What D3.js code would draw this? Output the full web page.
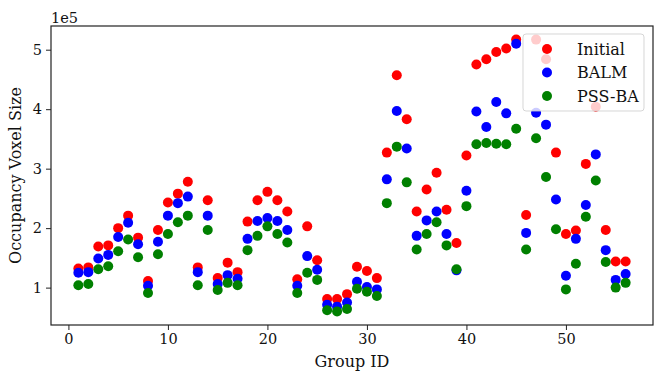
<!DOCTYPE html>
<html>
<head>
<meta charset="utf-8">
<script src="https://cdn.jsdelivr.net/npm/d3@7"></script>
<style>
	body { margin: 0; background: #fff; }
	svg { display: block; font-family: "DejaVu Serif", serif; }
</style>
</head>
<body>
<div id="chart"></div>
<script>
// Group ids along the x axis
const groupIds = [1,2,3,4,5,6,7,8,9,10,11,12,13,14,15,16,17,18,19,20,
	21,22,23,24,25,26,27,28,29,30,31,32,33,34,35,36,37,38,39,40,
	41,42,43,44,45,46,47,48,49,50,51,52,53,54,55,56];

// Occupancy voxel size per group
const initial = [132000,134000,169000,171000,200000,221000,184000,111000,197000,243000,
	258000,278000,134000,247000,116000,142000,126000,211000,247000,261000,
	247000,228000,114000,203000,146000,81000,81000,89000,135000,128000,
	116000,327000,457000,383000,228000,265000,293000,231000,175000,322000,
	475000,484000,496000,502000,517000,222000,517000,484000,327000,190000,
	196000,308000,404000,197000,144000,144000];

const balm = [125000,126000,149000,155000,185000,209000,173000,103000,177000,221000,
	242000,253000,126000,221000,106000,121000,115000,182000,212000,217000,
	212000,197000,103000,153000,130000,71000,68000,75000,110000,101000,
	97000,282000,397000,334000,187000,213000,228000,190000,129000,263000,
	396000,370000,412000,393000,510000,192000,394000,374000,248000,120000,
	182000,239000,324000,163000,113000,123000];

const pssba = [104000,106000,131000,136000,161000,181000,151000,91000,156000,190000,
	210000,221000,104000,197000,96000,108000,104000,163000,187000,203000,
	190000,176000,91000,125000,113000,62000,60000,64000,98000,93000,
	86000,242000,337000,277000,164000,190000,210000,171000,131000,237000,
	341000,343000,342000,341000,367000,164000,351000,286000,198000,97000,
	140000,219000,280000,143000,100000,108000];

const seriesNames = ['Initial', 'BALM', 'PSS-BA'];
const seriesColors = ['#ff0000', '#0000ff', '#008000'];
const xTicks = [0, 10, 20, 30, 40, 50];
const yTicks = [100000, 200000, 300000, 400000, 500000];

const width = 662;
const height = 382;
const margin = {t:26, r:9, b:57, l:51};
const w = width - margin.l - margin.r;
const h = height - margin.t - margin.b;

const series = [initial, balm, pssba].map((vals, i) => ({
	name: seriesNames[i],
	color: seriesColors[i],
	points: vals.map((v, j) => ({id: groupIds[j], value: v}))
}));

// matplotlib style 5% padding on both axes
const xExt = d3.extent(groupIds);
const xPad = (xExt[1] - xExt[0]) * 0.05;
const allVals = initial.concat(balm, pssba);
const yExt = d3.extent(allVals);
const yPad = (yExt[1] - yExt[0]) * 0.05;

const scaleX = d3.scaleLinear().domain([xExt[0] - xPad, xExt[1] + xPad]).range([0, w]);
const scaleY = d3.scaleLinear().domain([yExt[0] - yPad, yExt[1] + yPad]).range([h, 0]);

const svg = d3.select('#chart').append('svg')
	.attr('width', width)
	.attr('height', height);

const plot = svg.append('g')
	.attr('transform', `translate(${margin.l},${margin.t})`);

// points, drawn in series order so PSS-BA sits on top
series.forEach(s => {
	plot.append('g')
		.selectAll('circle')
		.data(s.points)
		.enter()
		.append('circle')
		.attr('cx', d => scaleX(d.id))
		.attr('cy', d => scaleY(d.value))
		.attr('r', 5)
		.attr('fill', s.color);
});

// axes
const axisX = d3.axisBottom(scaleX)
	.tickValues(xTicks)
	.tickSize(5)
	.tickPadding(4)
	.tickFormat(d3.format('d'));

const axisY = d3.axisLeft(scaleY)
	.tickValues(yTicks)
	.tickSize(5)
	.tickPadding(4)
	.tickFormat(d => d / 1e5);

const axisXNode = plot.append('g')
	.attr('class', 'axis-x')
	.attr('transform', `translate(0,${h})`)
	.call(axisX);

const axisYNode = plot.append('g')
	.attr('class', 'axis-y')
	.call(axisY);

[axisXNode, axisYNode].forEach(a => {
	a.select('.domain').remove();
	a.selectAll('line').attr('stroke', '#222').attr('stroke-width', 1);
	a.selectAll('text')
		.attr('fill', '#111')
		.style('font-family', '"DejaVu Serif", serif')
		.style('font-size', '14.5px');
});

// frame
plot.append('rect')
	.attr('x', 0)
	.attr('y', 0)
	.attr('width', w)
	.attr('height', h)
	.attr('fill', 'none')
	.attr('stroke', '#222')
	.attr('stroke-width', 1.2);

// offset text
svg.append('text')
	.attr('x', margin.l)
	.attr('y', margin.t - 3)
	.attr('fill', '#111')
	.style('font-size', '14.5px')
	.text('1e5');

// axis labels
svg.append('text')
	.attr('x', margin.l + w / 2)
	.attr('y', 367)
	.attr('text-anchor', 'middle')
	.attr('fill', '#111')
	.style('font-size', '16px')
	.text('Group ID');

svg.append('text')
	.attr('transform', `translate(21,${margin.t + h / 2}) rotate(-90)`)
	.attr('text-anchor', 'middle')
	.attr('fill', '#111')
	.style('font-size', '16px')
	.text('Occupancy Voxel Size');

// legend
const legend = svg.append('g')
	.attr('transform', 'translate(523,34)');

legend.append('rect')
	.attr('width', 121)
	.attr('height', 77)
	.attr('rx', 3)
	.attr('fill', '#fff')
	.attr('fill-opacity', 0.8)
	.attr('stroke', '#ccc')
	.attr('stroke-opacity', 0.8);

const legendItem = legend.selectAll('.item')
	.data(series)
	.enter()
	.append('g')
	.attr('class', 'item')
	.attr('transform', (d, i) => `translate(0,${15 + i * 23.5})`);

legendItem.append('circle')
	.attr('cx', 24)
	.attr('cy', 0)
	.attr('r', 5)
	.attr('fill', d => d.color);

legendItem.append('text')
	.attr('x', 54)
	.attr('y', 0)
	.attr('dy', '0.35em')
	.attr('fill', '#111')
	.style('font-size', '16px')
	.text(d => d.name);
</script>
</body>
</html>
